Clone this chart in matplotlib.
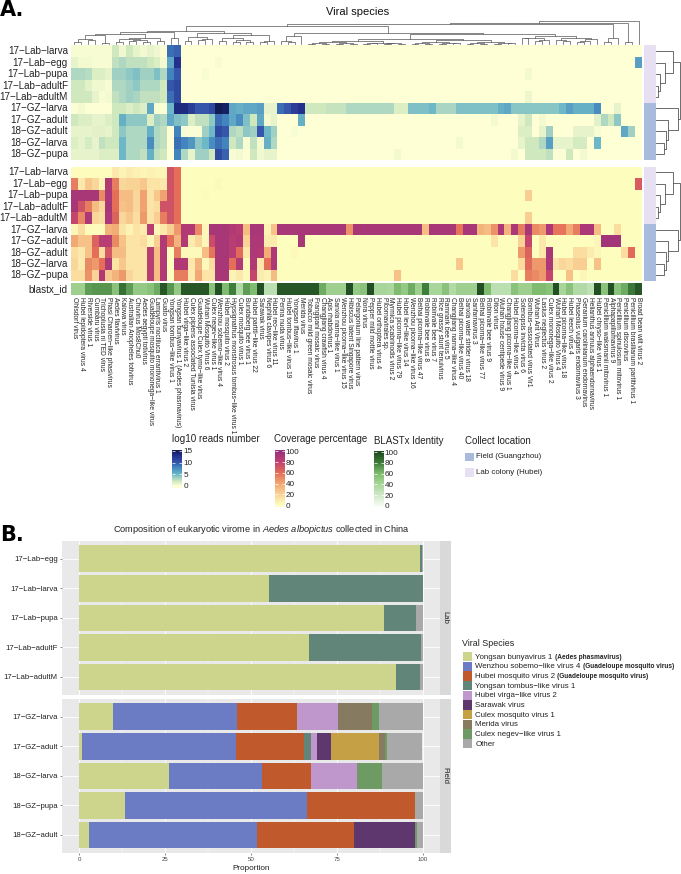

# Viral species heatmaps (A) and composition of the virome (B)

import numpy as np
import matplotlib
matplotlib.use('Agg')
import matplotlib.pyplot as plt
from matplotlib.colors import LinearSegmentedColormap
from matplotlib.patches import Rectangle

plt.rcParams['font.family'] = ['Liberation Sans', 'DejaVu Sans']
plt.rcParams['mathtext.fontset'] = 'custom'
plt.rcParams['mathtext.rm'] = 'Liberation Sans'
plt.rcParams['mathtext.it'] = 'Liberation Sans:italic'
plt.rcParams['mathtext.bf'] = 'Liberation Sans:bold'

samples = ['17−Lab−larva', '17−Lab−egg', '17−Lab−pupa', '17−Lab−adultF', '17−Lab−adultM',
           '17−GZ−larva', '17−GZ−adult', '18−GZ−adult', '18−GZ−larva', '18−GZ−pupa']

species = ['Ohlsdorf virus', 'Hubei lepidoptera virus 4', 'Riverside virus 1', 'Cumbaru virus',
           'Trichoplusia ni TED virus', 'Phasi Charoen−like phasivirus', 'Aedes flavivirus', 'Kaiowa virus',
           'Australian Anopheles totivirus', 'Chuvirus Mos8Chu0', 'Aedes aegypti totivirus',
           'Guadeloupe mosquito mononega−like virus', 'Lampyris noctiluca errantivirus 1', 'Guato virus',
           'Yongsan tombus−like virus 1', 'Yongsan bunyavirus 1 (Aedes phasmavirus)', 'Hubei virga−like virus 2',
           'Culex pipiens associated Tunisia virus', 'Guadeloupe Culex tymo−like virus', 'Wuhan Mosquito Virus 6',
           'Culex negev−like virus 1', 'Wenzhou sobemo−like virus 4', 'Hubei mosquito virus 2',
           'Hypsignathus monstrosus tombus−like virus 1', 'Culex mosquito virus 1', 'Bundaberg bee virus 1',
           'Hubei partiti−like virus 22', 'Sarawak virus', 'Nephila clavipes virus 6', 'Hubei reo−like virus 11',
           'Perina nuda virus', 'Hubei tombus−like virus 19', 'Yongsan iflavirus 1', 'Merida virus',
           'Tobacco mild green mosaic virus', 'Frangipani mosaic virus', 'Changjiang crawfish virus 4',
           'Apis rhabdovirus 1', 'Sanxia narna−like virus 1', 'Wenzhou picorna−like virus 15',
           'Hibiscus latent Singapore virus', 'Pelargonium line pattern virus', 'Nora virus',
           'Pepper mild mottle virus', 'Hubei orthoptera virus 4', 'Picornavirales sp.',
           'Myrmica scabrinodis virus 2', 'Hubei picorna−like virus 79', 'Hubei levi−like virus 14',
           'Wenzhou picorna−like virus 16', 'Beihai picorna−like virus 47', 'Robinvale bee virus 8',
           'Robinvale bee virus 7', 'Rice grassy stunt tenuivirus', 'Ramnark bee virus 5',
           'Changjiang narna−like virus 4', 'Beihai picorna−like virus 40', 'Sanxia water strider virus 18',
           'Sanfarnavirus 3', 'Beihai picorna−like virus 77', 'Robinvale bee virus 9', 'Diton virus',
           'Wuhan house centipede virus 9', 'Changjiang picorna−like virus 1', 'Hubei picorna−like virus 4',
           'Solenopsis invicta virus 6', 'Bombus−associated virus Vir1', 'Wuhan Ant Virus', 'Lasius neglectus virus 2',
           'Culex mononega−like virus 2', 'Wuhan Mosquito Virus 4', 'Hubei picorna−like virus 18',
           'Hubei leech virus 4', 'Phaseolus vulgaris endornavirus 3', 'Geranium carolinianum endornavirus',
           'Helianthus annuus alphaendornavirus', 'Hubei chryso−like virus 1', 'Penicillium waksmanii mitovirus 1',
           'Alphapapillomavirus 9', 'Penicillium spinulosum mitovirus 1', 'Penicillium discovirus',
           'Penicillium brasilianum partitivirus 1', 'Broad bean wilt virus 2']

# log10 reads number, one list per sample
reads_lab_larva = [.3, .3, .3, .3, .3, .3, 2, .6, 2, 1, .5, 1, .6, .2, 9, 9.5] + [0] * 67
reads_lab_egg = [1, .5, .5, .3, .3, .3, 2.5, 3, 2.5, 2.5, 2.5, 2, 1.5, .5, 6, 13] + [0] * 5 + [.3] + [0] * 60 + [6.5]
reads_lab_pupa = [3, 3, 2.8, 1.5, 1.5, 1, 3.5, 3.5, 4, 4.5, 3.5, 3.5, 4.5, 3, 8, 10] + [0] * 3 + [.3] + [0] * 46 + [.5] + [0] * 16
reads_lab_adultf = [2, 2, 1.2, .7, .7, .3, 3, 3, 3.5, 4, 3, 3, 3, 2, 10, 11] + [0] * 67
reads_lab_adultm = [2, 2, 2, 1, .3, .5, 2.5, 3, 3.5, 3.2, 2.5, 2.5, 2.5, 2, 9, 11] + [0] * 50 + [.8] + [0] * 16
reads_17gz_larva = [.2, .5, .1, .1, .1, .1, 2, 2, 1.5, 2,
                    1.5, 6, .3, .2, 5, 13.5, 13.5, 12, 10, 10,
                    11, 15, 14.5, 6, 5.5, 6, 6, 6.5, 1, 1,
                    9, 10, 12, 13, 2, 2, 2, 2.3, 2.3, 2.3,
                    3, 3, 3, 3, 3, 3, 3, 1.5, 1.5, 4.5,
                    4.5, 4.5, 5, 3.2, 3.2, 3.2, 4.5, 4.5, 4.5, 4.5,
                    4.5, 4.5, 5.5, 6, 4.2, 4.2, 4.2, 4.2, 4.2, 4.2,
                    4.2, 5, 6.5, 5.5, 5.5, 5.5, 7.5, 0, 0, 1,
                    0, 0, 0]
reads_17gz_adult = [2, 1.5, 1.5, 1, 1, 1.5, 2, 5.5, 4, 4,
                    4, 1.5, 3.5, 3, 6, 4.5, 4, 1.5, 2.5, 2.5,
                    4, 9, 8, 6, 7.5, 4.5, 2, 6, .5, 1] + [0, 0, 0, 5.5] + [0] * 27 + [.5] + [0, 0, 0, 1, 2, 0, .5, 0] + [0] * 6 + [1.2, 3, 2, 4, 0, 0, 0]
reads_18gz_adult = [1, 1, 1, 1.2, 1.2, 1, 2, 4, 3, 3,
                    3, 5.5, 3, 2.5, 0, 8, .3, .2, .2, 3.5,
                    5, 11, 10, 3, 2.5, 4, 3.5, 10, 5, 3.5] + [0, 0, .3] + [0] * 32 + [1.5, 1.5, 0, 1, 3.5, 0, 0, 0, 1, 1, 1, .3, 0, 0, 0, 6, 3.5, 0]
reads_18gz_larva = [1.5, 1, 1.8, 1, 2.5, 2, 2, 5, 3, 3,
                    3, 7.5, 3, 2.5, 0, 9, 8, 7, 4, 5,
                    7.5, 9, 8, 2, 3, .3, 2.5, .5, 5.5, 3] + [0] * 26 + [.5] + [0] * 8 + [1, 2, 2, 3, 6.5, 1, 1, 1, 1.8, 1.8, 0, 5] + [0] * 6
reads_18gz_pupa = [1, 1, 1, 1, 1.5, 1.5, 1.5, 5, 3, 3,
                   2.5, 5.5, 2.5, 2, 0, 8, 3, 1, 3.5, 3.5,
                   2, 11, 9.5, .3, .5, .1, 2, .7, 1, 1] + [0] * 17 + [.5] + [0] * 16 + [.5, 0, 2, 2, 2, 2.5, .2, .2, 2, 0, .5] + [0] * 8

# coverage percentage, one list per sample
cover_lab_larva = [.5, .5, .5, .5, .5, .5, 10, 5, 8, 6, 4, 6, 4, 3, 72, 60] + [0] * 67
cover_lab_egg = [55, 10, 25, 18, 5, 88, 55, 18, 20, 20, 25, 12, 12, 10, 72, 60] + [0] * 5 + [2] + [0] * 60 + [68]
cover_lab_pupa = [92, 92, 92, 92, 50, 90, 60, 30, 30, 18, 42, 12, 25, 42, 72, 60] + [0] * 3 + [1] + [0] * 46 + [22] + [0] * 16
cover_lab_adultf = [92, 72, 55, 30, 18, 92, 60, 28, 30, 18, 42, 12, 15, 72, 72, 60] + [0] * 67
cover_lab_adultm = [78, 50, 90, 18, 15, 90, 65, 18, 25, 15, 45, 12, 22, 55, 72, 60] + [0] * 50 + [22] + [0] * 16
cover_17gz_larva = [3, 15, 1, 1, 1, 35, 38, 12, 5, 12,
                    8, 85, 3, 10, 22, 45, 88, 88, 50, 3,
                    92, 92, 92, 88, 85, 30, 92, 92, 5, 28,
                    92, 92, 92, 92, 92, 92, 92, 92, 92, 92,
                    48, 92, 92, 92, 92, 92, 92, 92, 92, 92,
                    92, 30, 92, 92, 92, 92, 58, 92, 92, 35,
                    30, 48, 90, 35, 90, 55, 92, 50, 45, 90,
                    58, 58, 40, 55, 90, 90, 30, 0, 0, 15,
                    0, 0, 0]
cover_17gz_adult = [40, 28, 28, 65, 85, 85, 50, 28, 12, 12,
                    15, 3, 22, 88, 60, 35, 88, 8, 18, 3,
                    75, 92, 92, 85, 88, 20, 90, 90, 8, 8] + [0, 0, 0, 92] + [0] * 27 + [12] + [0, 0, 0, 20, 78, 0, 10, 0] + [0] * 6 + [3, 95, 95, 95, 0, 0, 0]
cover_18gz_adult = [15, 10, 28, 60, 15, 70, 30, 30, 12, 12,
                    12, 85, 30, 88, 0, 55, 2, 2, 2, 30,
                    58, 92, 92, 85, 62, 10, 90, 88, 38, 90] + [0, 0, 2] + [0] * 32 + [45, 65, 0, 10, 92, 0, 0, 0, 15, 15, 8, 3, 0, 0, 0, 15, 62, 0]
cover_18gz_larva = [18, 8, 50, 45, 60, 90, 12, 25, 12, 12,
                    12, 85, 30, 88, 0, 88, 88, 10, 35, 2,
                    15, 92, 92, 60, 88, 2, 88, 10, 60, 90] + [0] * 26 + [25] + [0] * 8 + [15, 62, 45, 45, 90, 12, 18, 15, 22, 22, 0, 28] + [0] * 6
cover_18gz_pupa = [15, 15, 48, 20, 88, 25, 35, 45, 18, 12,
                   12, 85, 30, 88, 0, 55, 55, 8, 40, 12,
                   12, 92, 92, 5, 10, 2, 78, 8, 5, 30] + [0] * 17 + [28] + [0] * 16 + [15, 0, 55, 50, 45, 78, 0, 0, 28, 0, 3] + [0] * 8

# BLASTx identity strip
identity = [45, 45, 70, 72, 72, 72, 55, 85, 70, 50,
            50, 55, 65, 95, 72, 50, 95, 95, 95, 95,
            55, 98, 60, 80, 35, 70, 60, 98, 30, 30,
            95, 95, 95, 95, 95, 95, 65, 45, 45, 45,
            98, 50, 55, 98, 40, 40, 38, 60, 50, 65,
            45, 80, 40, 40, 55, 35, 45, 45, 45, 98,
            60, 30, 30, 30, 55, 45, 45, 60, 60, 55,
            98, 40, 55, 35, 35, 28, 98, 55, 98, 55,
            65, 82, 95]

# dendrograms: [height, left, right], leaves are 1-based positions
d1 = [6, [3, [1, 35, 36], [2, 37, 38]], [4, [1, 39, 40], [2, 41, 42]]]
d2 = [5, [3, [2, 43, 44], 45], [4, [1, 46, 47], [2, 48, 49]]]
d3 = [7, [4, [2, 50, 51], [1, 52, 53]], [5, [2, 54, 55], [3, 56, 57]]]
d4 = [6, [3, [1, 58, 59], [2, 60, 61]], [4, [2, 62, 63], [3, 64, 65]]]
dense = [15, [10, d1, d2], [12, d3, d4]]
clade_right = [26, [20, [19, 66, 67], [14, [11, 68, 69], 70]], [20, [14, 71, [10, 72, 73]], [16, [10, [7, 74, 75], 76], 77]]]
clade_left = [41, [38, [30, [28, [17, [8, 1, 2], [12, 3, 4]], [4, 5, 6]],
                        [20, [15, [8, 7, 8], [14, [10, 9, 10], [7, 11, 12]]], [9, 13, 14]]], [20, 15, 16]],
              [33, [21, [9, 17, 18], [15, [12, 19, 20], 21]],
               [27, [20, [9, 22, 23], [13, [8, 24, 25], [6, 26, 27]]], [10, [7, 28, 29], 30]]]]
clade_mid = [33.5, [24, [10, 31, [7, 32, 33]], 34], [32, dense, clade_right]]
col_tree = [71, [63, [61, [55, clade_left, clade_mid], [20, [8, 78, 79], 80]], [8, 81, 82]], 83]
row_tree = [72, [52, 1, [27, 2, [12, 3, [7, 4, 5]]]], [65, 6, [37, 7, [30, 8, [24, 9, 10]]]]]

# panel B
bar_samples_lab = ['17−Lab−egg', '17−Lab−larva', '17−Lab−pupa', '17−Lab−adultF', '17−Lab−adultM']
bar_samples_field = ['17−GZ−larva', '17−GZ−adult', '18−GZ−larva', '18−GZ−pupa', '18−GZ−adult']
bar_samples = bar_samples_lab + bar_samples_field
yongsan_bunya = [99.2, 55.3, 88.6, 66.9, 92.3, 9.9, .8, 26, 13.4, 2.9]
wenzhou_sobemo = [0, 0, 0, 0, 0, 35.9, 44.7, 27.2, 53, 48.8]
hubei_mosquito = [0, 0, 0, 0, 0, 17.6, 20, 14.3, 31.2, 28.3]
yongsan_tombus = [.5, 44.7, 9.5, 32.5, 7, 0, 1.9, 0, 0, 0]
hubei_virga = [0, 0, 0, 0, 0, 11.8, 1.7, 13.4, 0, 0]
sarawak = [0, 0, 0, 0, 0, 0, 4.2, 0, 0, 17.7]
culex_mosquito = [0, 0, 0, 0, 0, 0, 13.9, 0, 0, 0]
merida = [0, 0, 0, 0, 0, 10, 1.8, 0, 0, 0]
culex_negev = [0, 0, 0, 0, 0, 2.1, .5, 7.2, 0, .7]
other = [.3, 0, 1.9, .6, .7, 12.7, 10.4, 11.9, 2.4, 1.6]

bar_series = [yongsan_bunya, wenzhou_sobemo, hubei_mosquito, yongsan_tombus, hubei_virga,
              sarawak, culex_mosquito, merida, culex_negev, other]
bar_colors = ['#CDD58D', '#6B7CC4', '#C05A2C', '#62857A', '#BF97CC',
              '#5E376F', '#C6A044', '#867A60', '#6E9B63', '#A9A9A9']
legend_names = ['Yongsan bunyavirus 1', 'Wenzhou sobemo−like virus 4', 'Hubei mosquito virus 2',
                'Yongsan tombus−like virus 1', 'Hubei virga−like virus 2', 'Sarawak virus',
                'Culex mosquito virus 1', 'Merida virus', 'Culex negev−like virus 1', 'Other']
legend_extra = ['(Aedes phasmavirus)', '(Guadeloupe mosquito virus)', '(Guadeloupe mosquito virus)',
                '', '', '', '', '', '', '']

W, H = 681, 874
LAB_COLOR = '#E6E0F2'
FIELD_COLOR = '#A9BBDD'
TREE_COLOR = '#555555'

reads_cmap = LinearSegmentedColormap.from_list('reads', [
    (0, '#FFFFD6'), (2 / 15, '#CFE8BE'), (5 / 15, '#6DB8C8'), (8 / 15, '#4285BE'),
    (10 / 15, '#3556AA'), (13 / 15, '#24308E'), (1, '#111C55')])
cover_cmap = LinearSegmentedColormap.from_list('cover', [
    (0, '#FDFDBE'), (.2, '#F9D295'), (.4, '#F1A873'), (.6, '#E46E58'), (.8, '#C2416F'), (1, '#98307E')])
ident_cmap = LinearSegmentedColormap.from_list('ident', [
    (0, '#F7FCF5'), (.4, '#A8D59A'), (.6, '#80BC70'), (.8, '#3F7D3C'), (1, '#1F4A20')])

fig = plt.figure(figsize=(W / 100, H / 100), dpi=100)


def px_axes(x0, y0, x1, y1):
    # axes from pixel corners, y counted from the top
    return fig.add_axes([x0 / W, 1 - y1 / H, (x1 - x0) / W, (y1 - y0) / H])


def draw_tree(ax, node, horizontal):
    # returns (leaf position, height) of the node
    if not isinstance(node, list):
        return node - .5, 0
    p1, h1 = draw_tree(ax, node[1], horizontal)
    p2, h2 = draw_tree(ax, node[2], horizontal)
    h = node[0]
    if horizontal:
        ax.plot([p1, p1, p2, p2], [h1, h, h, h2], color=TREE_COLOR, lw=.5, clip_on=False)
    else:
        ax.plot([h1, h, h, h2], [p1, p1, p2, p2], color=TREE_COLOR, lw=.6, clip_on=False)
    return (p1 + p2) / 2, h


def draw_heat(values, cmap, vmax, y0, y1):
    ax = px_axes(71, y0, 642, y1)
    ax.pcolormesh(np.array(values), cmap=cmap, vmin=0, vmax=vmax)
    ax.invert_yaxis()
    ax.axis('off')
    return ax


def draw_side(y0, y1):
    ax = px_axes(644, y0, 656, y1)
    ax.add_patch(Rectangle((0, 0), 1, 5, color=LAB_COLOR, lw=0))
    ax.add_patch(Rectangle((0, 5), 1, 5, color=FIELD_COLOR, lw=0))
    ax.set_xlim(0, 1)
    ax.set_ylim(10, 0)
    ax.axis('off')
    tree = px_axes(656, y0, 680, y1)
    draw_tree(tree, row_tree, False)
    tree.set_xlim(0, 72)
    tree.set_ylim(10, 0)
    tree.axis('off')


def draw_colorbar(y0, y1, vlow, vhigh, vmax, ticks, cmap, x0):
    ax = px_axes(x0, y0, x0 + 10, y1)
    grad = np.linspace(vlow, vhigh, 200)
    ax.pcolormesh([0, 1], grad, np.c_[(grad[:-1] + grad[1:]) / 2], cmap=cmap, vmin=0, vmax=vmax)
    ax.set_xticks([])
    ax.set_yticks(ticks)
    ax.set_yticklabels([str(t) for t in ticks], fontsize=5.9, color='#222222')
    ax.tick_params(axis='y', direction='in', color='white', width=.5, length=2, pad=1,
                   left=True, right=True, labelleft=False, labelright=True)
    for s in ax.spines.values():
        s.set_visible(False)


# ---- panel A ----
reads = [reads_lab_larva, reads_lab_egg, reads_lab_pupa, reads_lab_adultf, reads_lab_adultm,
         reads_17gz_larva, reads_17gz_adult, reads_18gz_adult, reads_18gz_larva, reads_18gz_pupa]
cover = [cover_lab_larva, cover_lab_egg, cover_lab_pupa, cover_lab_adultf, cover_lab_adultm,
         cover_17gz_larva, cover_17gz_adult, cover_18gz_adult, cover_18gz_larva, cover_18gz_pupa]

draw_heat(reads, reads_cmap, 15, 45.5, 160)
draw_heat(cover, cover_cmap, 100, 166.7, 281)
draw_side(45.5, 160)
draw_side(166.7, 281)

tree_ax = px_axes(71, 20.6, 642, 44.4)
draw_tree(tree_ax, col_tree, True)
tree_ax.set_xlim(0, 83)
tree_ax.set_ylim(0, 71)
tree_ax.axis('off')

strip = px_axes(71, 283, 642, 295)
strip.pcolormesh(np.array([identity]), cmap=ident_cmap, vmin=0, vmax=100)
strip.set_xticks(np.arange(83) + .5)
strip.set_xticklabels(species, rotation=270, fontsize=4.75, ha='center', va='top', color='#222222')
strip.set_yticks([])
strip.tick_params(axis='x', length=0, pad=1.2)
for s in strip.spines.values():
    s.set_visible(False)

draw_colorbar(450, 488, -.9, 15.4, 15, [0, 5, 10, 15], reads_cmap, 172)
draw_colorbar(450, 507, -3.7, 102.8, 100, [0, 20, 40, 60, 80, 100], cover_cmap, 274.5)
draw_colorbar(451, 507, -2, 102, 100, [0, 20, 40, 60, 80, 100], ident_cmap, 373.5)

# ---- panel B ----
panel_lab = px_axes(62, 541, 440, 694.7)
panel_field = px_axes(62, 699, 440, 852.7)
colors_rows = [(panel_lab, bar_samples_lab, 0), (panel_field, bar_samples_field, 5)]
for ax, names, start in colors_rows:
    ax.set_facecolor('#E9E9E9')
    ax.set_axisbelow(True)
    ypos = np.arange(5)
    left = np.zeros(5)
    for values, color in zip(bar_series, bar_colors):
        values = np.array(values[start:start + 5])
        ax.barh(ypos, values, left=left, height=.9, color=color, lw=0)
        left = left + values
    ax.set_xlim(-5, 105)
    ax.set_ylim(4.6, -.6)
    ax.set_yticks(ypos)
    ax.set_yticklabels(names, fontsize=5.6, color='#222222')
    ax.set_xticks([0, 25, 50, 75, 100])
    ax.set_xticks([12.5, 37.5, 62.5, 87.5], minor=True)
    ax.grid(True, which='major', color='white', lw=.6)
    ax.grid(True, which='minor', axis='x', color='white', lw=.3)
    ax.tick_params(axis='both', which='major', length=1.5, width=.4, color='#333333', pad=1.5)
    ax.tick_params(axis='both', which='minor', length=0)
    for s in ax.spines.values():
        s.set_visible(False)
panel_lab.tick_params(axis='x', which='major', length=0, labelbottom=False)
panel_field.set_xticklabels(['0', '25', '50', '75', '100'], fontsize=4.4, color='#444444')
panel_field.set_xlabel('Proportion', fontsize=5.9, labelpad=2.5, color='#222222')

for y0, y1, name in [(541, 694.7, 'Lab'), (699, 852.7, 'Field')]:
    s_ax = px_axes(440, y0, 450.5, y1)
    s_ax.set_facecolor('#D9D9D9')
    s_ax.set_xticks([])
    s_ax.set_yticks([])
    for s in s_ax.spines.values():
        s.set_visible(False)
    s_ax.text(.5, .5, name, rotation=270, fontsize=5.6, ha='center', va='center',
              transform=s_ax.transAxes, color='#222222')

# ---- loose text and legends, in pixel coordinates ----
top = fig.add_axes([0, 0, 1, 1], zorder=5)
top.set_xlim(0, W)
top.set_ylim(H, 0)
top.axis('off')

top.text(0, 10.5, 'A.', fontsize=15, fontweight='bold', va='center', ha='left', family='DejaVu Sans')
top.text(0, 535, 'B.', fontsize=15, fontweight='bold', va='center', ha='left', family='DejaVu Sans')
top.text(357.5, 12, 'Viral species', fontsize=8, ha='center', va='center', color='#111111')
top.text(262, 530, r'Composition of eukaryotic virome in $\mathit{Aedes\ albopictus}$ collected in China',
         fontsize=6.7, ha='center', va='center', color='#222222')

row_h = (160 - 45.5) / 10
for i, name in enumerate(samples):
    top.text(68, 45.5 + row_h * (i + .5), name, fontsize=7.1, ha='right', va='center', color='#222222')
    top.text(68, 166.7 + row_h * (i + .5), name, fontsize=7.1, ha='right', va='center', color='#222222')
top.text(68, 289, 'blastx_id', fontsize=7.1, ha='right', va='center', color='#222222')

top.text(171.5, 439.5, 'log10 reads number', fontsize=7.1, ha='left', va='center', color='#222222')
top.text(274, 439.5, 'Coverage percentage', fontsize=7, ha='left', va='center', color='#222222')
top.text(374, 440.5, 'BLASTx Identity', fontsize=7, ha='left', va='center', color='#222222')
top.text(465, 440.5, 'Collect location', fontsize=7, ha='left', va='center', color='#222222')
top.add_patch(Rectangle((465, 452.5), 9, 8.5, color=FIELD_COLOR, lw=0))
top.add_patch(Rectangle((465, 468), 9, 8.5, color=LAB_COLOR, lw=0))
top.text(476.5, 456.5, 'Field (Guangzhou)', fontsize=5.7, ha='left', va='center', color='#222222')
top.text(476.5, 472.5, 'Lab colony (Hubei)', fontsize=5.7, ha='left', va='center', color='#222222')

top.text(462.3, 643.5, 'Viral Species', fontsize=6.4, ha='left', va='center', color='#222222')
renderer = fig.canvas.get_renderer()
for i, (name, extra, color) in enumerate(zip(legend_names, legend_extra, bar_colors)):
    y = 656.7 + i * 9.65
    top.add_patch(Rectangle((463, y - 4.7), 9, 9.4, color=color, lw=0))
    label = top.text(475.3, y + 2, name, fontsize=5.65, ha='left', va='baseline', color='#222222')
    if extra:
        # bold note goes right after the name, on the same baseline
        end_x = label.get_window_extent(renderer).x1 + 2
        top.text(end_x, y + 2, extra, fontsize=4.7, fontweight='bold', ha='left', va='baseline', color='#222222')

fig.savefig('out.png', dpi=100)
